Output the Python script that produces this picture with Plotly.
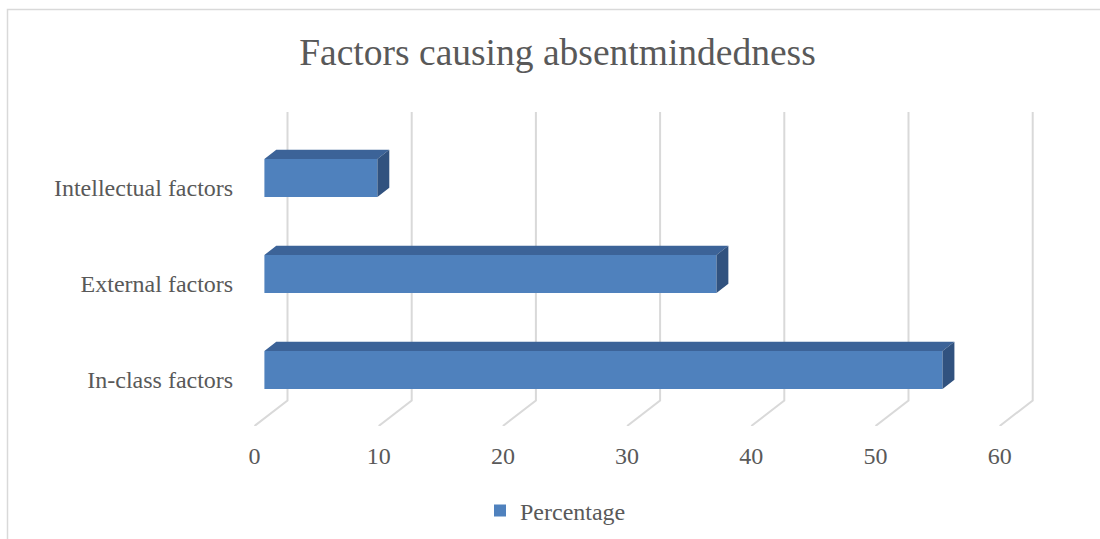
import plotly.graph_objects as go

# chart data
categories = ["In-class factors", "External factors", "Intellectual factors"]
percentages = [54.6, 36.4, 9.1]
x_ticks = [0, 10, 20, 30, 40, 50, 60]

# oblique projection of the 3-D plot box, expressed in axis units
PX_PER_X = 12.42            # pixels per percentage point
PX_PER_Y = 96.0             # pixels per category step
DEPTH_DX = 33 / PX_PER_X    # x shift from front edge of floor to back wall
DEPTH_DY = 25.5 / PX_PER_Y  # y shift from front edge of floor to back wall
FLOOR_Y = -0.479            # front edge of the floor
WALL_TOP = 2.792            # top of the back wall
BAR_Z0, BAR_Z1 = 0.30, 0.66  # depth span occupied by the bars
BAR_LIFT = 0.104            # front face centre above the category position
BAR_H = 38 / PX_PER_Y       # bar thickness

FRONT = "#4F81BD"
TOP = "#3C6398"
SIDE = "#31527F"
GRID = "#D9D9D9"
TEXT = "#595959"
FONT = "Times New Roman, Liberation Serif, serif"

ML, MR, MT, MB = 245, 55, 100, 113
W, H = 1100, 539
plot_w, plot_h = W - ML - MR, H - MT - MB
x0 = -(254.5 - ML) / PX_PER_X
x_range = [x0, x0 + plot_w / PX_PER_X]
y_range = [FLOOR_Y, FLOOR_Y + plot_h / PX_PER_Y]

base = BAR_Z0 * DEPTH_DX
dd_x = (BAR_Z1 - BAR_Z0) * DEPTH_DX
dd_y = (BAR_Z1 - BAR_Z0) * DEPTH_DY
ypos = [i + BAR_LIFT for i in range(len(categories))]

fig = go.Figure()

# front faces
fig.add_trace(go.Bar(
    y=ypos, x=percentages, base=base, orientation="h", width=BAR_H,
    marker=dict(color=FRONT, line=dict(width=0)), name="Percentage",
    showlegend=True, hoverinfo="x",
))

# top and side faces
top_x, top_y, side_x, side_y = [], [], [], []
for yc, v in zip(ypos, percentages):
    yt, yb = yc + BAR_H / 2, yc - BAR_H / 2
    top_x += [base, base + v, base + v + dd_x, base + dd_x, base, None]
    top_y += [yt, yt, yt + dd_y, yt + dd_y, yt, None]
    side_x += [base + v, base + v, base + v + dd_x, base + v + dd_x, base + v, None]
    side_y += [yb, yt, yt + dd_y, yb + dd_y, yb, None]

fig.add_trace(go.Scatter(x=top_x, y=top_y, mode="lines", fill="toself",
                         fillcolor=TOP, line=dict(width=0, color=TOP),
                         showlegend=False, hoverinfo="skip"))
fig.add_trace(go.Scatter(x=side_x, y=side_y, mode="lines", fill="toself",
                         fillcolor=SIDE, line=dict(width=0, color=SIDE),
                         showlegend=False, hoverinfo="skip"))

# gridlines: floor diagonal then up the back wall
shapes = []
for t in x_ticks:
    path = (f"M {t},{FLOOR_Y} L {t + DEPTH_DX},{FLOOR_Y + DEPTH_DY} "
            f"L {t + DEPTH_DX},{WALL_TOP}")
    shapes.append(dict(type="path", path=path, xref="x", yref="y",
                       line=dict(color=GRID, width=2), layer="below"))

# chart frame
px2paper_x = lambda px: (px - ML) / plot_w
px2paper_y = lambda py: (H - MB - py) / plot_h
shapes.append(dict(type="path", xref="paper", yref="paper",
                   path=(f"M {px2paper_x(7.5)},{px2paper_y(560)} "
                         f"L {px2paper_x(7.5)},{px2paper_y(9.5)} "
                         f"L {px2paper_x(1120)},{px2paper_y(9.5)}"),
                   line=dict(color=GRID, width=1.5), layer="below"))

fig.update_layout(
    width=W, height=H,
    margin=dict(l=ML, r=MR, t=MT, b=MB),
    paper_bgcolor="white", plot_bgcolor="white",
    font=dict(family=FONT, color=TEXT, size=24),
    title=dict(text="Factors causing absentmindedness", x=557.5 / W, xanchor="center",
               xref="container", y=1 - 52 / H, yanchor="middle", yref="container",
               font=dict(size=37.5, color=TEXT, family=FONT)),
    xaxis=dict(range=x_range, tickvals=x_ticks, ticks="outside", ticklen=8,
               tickcolor="rgba(0,0,0,0)", showgrid=False, zeroline=False,
               showline=False, fixedrange=True),
    yaxis=dict(range=y_range, tickvals=list(range(len(categories))),
               ticktext=categories, ticks="outside", ticklen=6,
               tickcolor="rgba(0,0,0,0)", showgrid=False, zeroline=False,
               showline=False, fixedrange=True),
    legend=dict(orientation="h", xref="container", yref="container",
                x=480 / W, xanchor="left", y=1 - 511 / H, yanchor="middle",
                font=dict(size=24, color=TEXT, family=FONT)),
    shapes=shapes,
    showlegend=True,
)

fig.write_html("out.html")
